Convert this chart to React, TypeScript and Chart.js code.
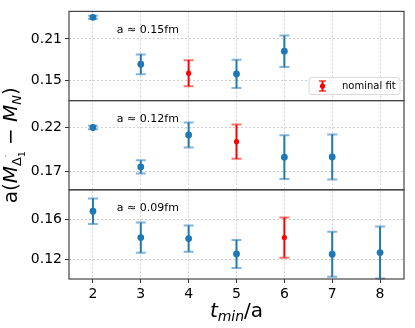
import React, { useEffect, useRef } from 'react';
import { Chart, registerables } from 'chart.js';
Chart.register(...registerables);

// ---- data ----
const tminValues = [2, 3, 4, 5, 6, 7, 8];
const xTickLabels = [2, 3, 4, 5, 6, 7, 8];

const panelLabels = ['a ≈ 0.15fm', 'a ≈ 0.12fm', 'a ≈ 0.09fm'];

const fit015 = [0.2413, 0.173, 0.16, 0.159, 0.192];
const err015 = [0.0024, 0.0144, 0.019, 0.0206, 0.0228];
const fit012 = [0.22, 0.1748, 0.2115, 0.2037, 0.186, 0.1863];
const err012 = [0.002, 0.0076, 0.0143, 0.0196, 0.025, 0.0258];
const fit009 = [0.168, 0.1416, 0.1406, 0.1253, 0.1416, 0.125, 0.1267];
const err009 = [0.0127, 0.015, 0.013, 0.014, 0.02, 0.0225, 0.026];
const nominalTmin = [4, 5, 6];

const yTicks015 = [0.15, 0.21];
const yTicks012 = [0.17, 0.22];
const yTicks009 = [0.12, 0.16];
const yRange015 = [0.1201, 0.25];
const yRange012 = [0.1486, 0.2508];
const yRange009 = [0.1003, 0.1893];

const legendLabel = 'nominal fit';

const BLUE = '#1f77b4';
const RED = '#ff0000';
const FONT = 'DejaVu Sans';

type Pt = { x: number; y: number; e: number };

function buildPoints(vals: number[], errs: number[], nominal: number, wantNominal: boolean): Pt[] {
  const out: Pt[] = [];
  vals.forEach((v, i) => {
    const t = tminValues[i];
    if ((t === nominal) === wantNominal) out.push({ x: t, y: v, e: errs[i] });
  });
  return out;
}

const panels = [
  { id: 'yTop', vals: fit015, errs: err015, nominal: nominalTmin[0], ticks: yTicks015, range: yRange015 },
  { id: 'yMid', vals: fit012, errs: err012, nominal: nominalTmin[1], ticks: yTicks012, range: yRange012 },
  { id: 'yBot', vals: fit009, errs: err009, nominal: nominalTmin[2], ticks: yTicks009, range: yRange009 },
];

type Run = { t: string; f: string; dy?: number; noAdvance?: boolean };

function drawRuns(ctx: CanvasRenderingContext2D, runs: Run[], cx: number, base: number) {
  let total = 0;
  const widths = runs.map((r) => {
    ctx.font = r.f;
    return ctx.measureText(r.t).width;
  });
  runs.forEach((r, i) => {
    if (!r.noAdvance) total += widths[i];
  });
  let x = cx - total / 2;
  ctx.textAlign = 'left';
  ctx.textBaseline = 'alphabetic';
  runs.forEach((r, i) => {
    ctx.font = r.f;
    ctx.fillText(r.t, x, base + (r.dy || 0));
    if (!r.noAdvance) x += widths[i];
  });
}

const decorPlugin = {
  id: 'decor',
  beforeDatasetsDraw(chart: any) {
    const ctx: CanvasRenderingContext2D = chart.ctx;
    const xs = chart.scales.x;
    chart.data.datasets.forEach((ds: any) => {
      const ys = chart.scales[ds.yAxisID];
      ctx.save();
      ds.data.forEach((p: Pt) => {
        const px = xs.getPixelForValue(p.x);
        const y1 = ys.getPixelForValue(p.y - p.e);
        const y2 = ys.getPixelForValue(p.y + p.e);
        ctx.strokeStyle = ds.borderColor;
        ctx.globalAlpha = 1;
        ctx.lineWidth = 2;
        ctx.beginPath();
        ctx.moveTo(px, y1);
        ctx.lineTo(px, y2);
        ctx.stroke();
        ctx.globalAlpha = 0.55;
        ctx.lineWidth = 2;
        ctx.beginPath();
        ctx.moveTo(px - 5, y1);
        ctx.lineTo(px + 5, y1);
        ctx.moveTo(px - 5, y2);
        ctx.lineTo(px + 5, y2);
        ctx.stroke();
      });
      ctx.restore();
    });
  },
  afterDraw(chart: any) {
    const ctx: CanvasRenderingContext2D = chart.ctx;
    const area = chart.chartArea;
    const xs = chart.scales.x;
    ctx.save();
    // panel frames
    ctx.strokeStyle = '#444';
    ctx.lineWidth = 1.2;
    panels.forEach((p) => {
      const s = chart.scales[p.id];
      ctx.strokeRect(area.left, s.top, area.right - area.left, s.bottom - s.top);
    });
    // panel annotations
    ctx.fillStyle = '#000';
    ctx.font = `11px ${FONT}`;
    ctx.textAlign = 'left';
    ctx.textBaseline = 'middle';
    panels.forEach((p, i) => {
      const s = chart.scales[p.id];
      ctx.fillText(panelLabels[i], xs.getPixelForValue(2.5), s.top + (s.bottom - s.top) * 0.21);
    });
    // legend
    const top = chart.scales.yTop;
    const bw = 91;
    const bh = 17;
    const bx = area.right - 4 - bw;
    const by = top.bottom - 6 - bh;
    const r = 3;
    ctx.beginPath();
    ctx.moveTo(bx + r, by);
    ctx.lineTo(bx + bw - r, by);
    ctx.arcTo(bx + bw, by, bx + bw, by + r, r);
    ctx.lineTo(bx + bw, by + bh - r);
    ctx.arcTo(bx + bw, by + bh, bx + bw - r, by + bh, r);
    ctx.lineTo(bx + r, by + bh);
    ctx.arcTo(bx, by + bh, bx, by + bh - r, r);
    ctx.lineTo(bx, by + r);
    ctx.arcTo(bx, by, bx + r, by, r);
    ctx.closePath();
    ctx.fillStyle = 'rgba(255,255,255,0.85)';
    ctx.fill();
    ctx.strokeStyle = '#d9d9d9';
    ctx.lineWidth = 1;
    ctx.stroke();
    const mx = bx + 13.5;
    const my = by + bh / 2;
    ctx.strokeStyle = RED;
    ctx.lineWidth = 2;
    ctx.beginPath();
    ctx.moveTo(mx, my - 5);
    ctx.lineTo(mx, my + 5);
    ctx.stroke();
    ctx.globalAlpha = 0.6;
    ctx.beginPath();
    ctx.moveTo(mx - 3.5, my - 5);
    ctx.lineTo(mx + 3.5, my - 5);
    ctx.moveTo(mx - 3.5, my + 5);
    ctx.lineTo(mx + 3.5, my + 5);
    ctx.stroke();
    ctx.globalAlpha = 1;
    ctx.fillStyle = RED;
    ctx.beginPath();
    ctx.arc(mx, my, 2.6, 0, Math.PI * 2);
    ctx.fill();
    ctx.fillStyle = '#000';
    ctx.font = `10px ${FONT}`;
    ctx.textAlign = 'left';
    ctx.textBaseline = 'middle';
    ctx.fillText(legendLabel, bx + 33, my);
    // x title
    ctx.fillStyle = '#000';
    drawRuns(
      ctx,
      [
        { t: 't', f: `italic 20px ${FONT}` },
        { t: 'min', f: `italic 14px ${FONT}`, dy: 4 },
        { t: '/a', f: `20px ${FONT}` },
      ],
      (area.left + area.right) / 2,
      317
    );
    // y title
    ctx.translate(17, (area.top + area.bottom) / 2);
    ctx.rotate(-Math.PI / 2);
    drawRuns(
      ctx,
      [
        { t: 'a(', f: `20px ${FONT}` },
        { t: 'M', f: `italic 20px ${FONT}` },
        { t: 'Δ', f: `13px ${FONT}`, dy: 4 },
        { t: '′', f: `9px ${FONT}`, dy: -5, noAdvance: true },
        { t: '1', f: `9px ${FONT}`, dy: 8 },
        { t: ' − ', f: `20px ${FONT}` },
        { t: 'M', f: `italic 20px ${FONT}` },
        { t: 'N', f: `italic 13px ${FONT}`, dy: 4 },
        { t: ')', f: `20px ${FONT}` },
      ],
      0,
      0
    );
    ctx.restore();
  },
};

function yScale(p: (typeof panels)[number]) {
  return {
    type: 'linear',
    position: 'left',
    stack: 'panels',
    stackWeight: 1,
    min: p.range[0],
    max: p.range[1],
    afterBuildTicks: (s: any) => {
      s.ticks = p.ticks.map((v) => ({ value: v }));
    },
    afterFit: (s: any) => {
      s.width = 69;
    },
    ticks: {
      autoSkip: false,
      padding: 3,
      color: '#000',
      font: { family: FONT, size: 14 },
      callback: (v: any) => Number(v).toFixed(2),
    },
    grid: {
      color: '#d0d0d0',
      lineWidth: 1,
      drawTicks: true,
      tickLength: 4,
      tickColor: '#333',
      tickWidth: 1,
    },
    border: { display: false, dash: [2, 2] },
  };
}

export default function App() {
  const ref = useRef<HTMLCanvasElement>(null);
  useEffect(() => {
    document.body.style.margin = '0';
    const datasets: any[] = [];
    panels.forEach((p) => {
      datasets.push({
        label: p.id + '-blue',
        yAxisID: p.id,
        data: buildPoints(p.vals, p.errs, p.nominal, false),
        borderColor: BLUE,
        backgroundColor: BLUE,
        pointRadius: 3.4,
        pointBorderWidth: 0,
        showLine: false,
      });
      datasets.push({
        label: p.id + '-red',
        yAxisID: p.id,
        data: buildPoints(p.vals, p.errs, p.nominal, true),
        borderColor: RED,
        backgroundColor: RED,
        pointRadius: 2.6,
        pointBorderWidth: 0,
        showLine: false,
      });
    });
    const scales: any = {
      x: {
        type: 'linear',
        position: 'bottom',
        min: 1.5,
        max: 8.5,
        afterBuildTicks: (s: any) => {
          s.ticks = xTickLabels.map((v) => ({ value: v }));
        },
        afterFit: (s: any) => {
          s.height = 49;
        },
        ticks: {
          autoSkip: false,
          maxRotation: 0,
          padding: 3,
          color: '#000',
          font: { family: FONT, size: 14 },
          callback: (v: any) => String(v),
        },
        grid: {
          color: '#d0d0d0',
          lineWidth: 1,
          drawTicks: true,
          tickLength: 4,
          tickColor: '#333',
          tickWidth: 1,
        },
        border: { display: false, dash: [2, 2] },
      },
      yBot: yScale(panels[2]),
      yMid: yScale(panels[1]),
      yTop: yScale(panels[0]),
    };
    const chart = new Chart(ref.current as HTMLCanvasElement, {
      type: 'scatter',
      data: { datasets },
      options: {
        animation: false,
        responsive: true,
        maintainAspectRatio: false,
        layout: { padding: { top: 10, right: 11, left: 0, bottom: 0 } },
        plugins: { legend: { display: false }, tooltip: { enabled: false } },
        scales,
      } as any,
      plugins: [decorPlugin],
    });
    return () => chart.destroy();
  }, []);
  return (
    <div style={{ width: 415, height: 328, position: 'relative', background: '#fff' }}>
      <canvas ref={ref} />
    </div>
  );
}
